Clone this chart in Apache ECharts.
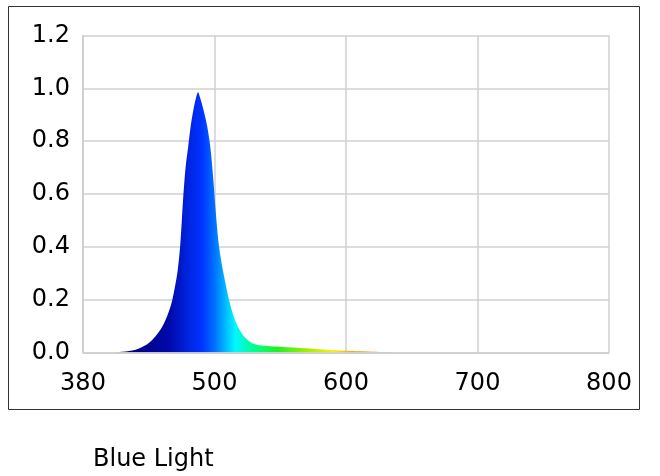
<!DOCTYPE html>
<html>
<head>
<meta charset="utf-8">
<script src="https://cdn.jsdelivr.net/npm/echarts@6/dist/echarts.min.js"></script>
<style>
  html, body { margin: 0; padding: 0; background: #ffffff; }
  #chart { width: 660px; height: 476px; }
</style>
</head>
<body>
<div id="chart"></div>
<script>
// Wavelength positions (axis units) and relative intensity
const wavelengths = [400, 410, 420, 425, 430, 435, 440, 445, 450, 455, 460, 463, 466, 468, 470, 472, 474, 476, 478, 480, 482, 484, 486, 487.5, 489, 491, 493, 495, 497, 499, 501, 503, 505, 508, 511, 514, 517, 520, 524, 528, 532, 536, 540, 550, 560, 570, 580, 590, 600, 610, 620, 630, 640, 650, 700, 750, 800];
const intensity   = [0, 0, 0, 0, 0.002, 0.005, 0.01, 0.02, 0.035, 0.06, 0.095, 0.125, 0.165, 0.2, 0.25, 0.31, 0.41, 0.57, 0.7, 0.78, 0.86, 0.92, 0.965, 0.985, 0.965, 0.93, 0.89, 0.84, 0.77, 0.66, 0.53, 0.42, 0.35, 0.27, 0.2, 0.145, 0.105, 0.077, 0.052, 0.036, 0.029, 0.026, 0.024, 0.021, 0.018, 0.015, 0.012, 0.009, 0.006, 0.004, 0.002, 0.001, 0, 0, 0, 0, 0];
const xTickLabels = ['380', '500', '600', '700', '800'];
const yTickLabels = ['0.0', '0.2', '0.4', '0.6', '0.8', '1.0', '1.2'];
const caption = 'Blue Light';

// spectrum colour stops: [wavelength, colour]
const spectrumStops = [
  [400, '#000070'], [440, '#000088'], [465, '#0008a8'], [480, '#0024e0'],
  [490, '#0032ff'], [500, '#0070ff'], [510, '#00c8ff'], [516, '#00f8ff'],
  [530, '#00ff90'], [548, '#20f020'], [570, '#a0f000'], [590, '#ffee00'],
  [610, '#ff9000'], [640, '#e04000'], [800, '#c00000']
];

const xMin = 400, xMax = 800;
const data = wavelengths.map((w, i) => [w, intensity[i]]);
const colorStops = spectrumStops.map(s => ({ offset: (s[0] - xMin) / (xMax - xMin), color: s[1] }));
const gradient = { type: 'linear', x: 0, y: 0, x2: 1, y2: 0, colorStops: colorStops };

const chart = echarts.init(document.getElementById('chart'), null, { renderer: 'canvas' });
const font = 'DejaVu Sans, Verdana, sans-serif';
chart.setOption({
  animation: false,
  backgroundColor: '#ffffff',
  grid: { left: 83, right: 51, top: 35.5, bottom: 123.7, containLabel: false },
  xAxis: {
    type: 'value', min: xMin, max: xMax, interval: 100,
    axisLine: { show: true, lineStyle: { color: '#cccccc', width: 1.5 } },
    axisTick: { show: false },
    splitLine: { show: true, lineStyle: { color: '#d0d0d0', width: 1.5 } },
    axisLabel: {
      color: '#000000', fontFamily: font, fontSize: 24, margin: 19,
      formatter: (v) => xTickLabels[Math.round((v - xMin) / 100)]
    }
  },
  yAxis: {
    type: 'value', min: 0, max: 1.2, interval: 0.2,
    axisLine: { show: true, lineStyle: { color: '#cccccc', width: 1.5 } },
    axisTick: { show: false },
    splitLine: { show: true, lineStyle: { color: '#d0d0d0', width: 1.5 } },
    axisLabel: {
      color: '#000000', fontFamily: font, fontSize: 24, margin: 13,
      formatter: (v) => yTickLabels[Math.round(v / 0.2)]
    }
  },
  series: [{
    type: 'line',
    data: data,
    smooth: 0.35,
    showSymbol: false,
    lineStyle: { width: 0, opacity: 0 },
    areaStyle: { opacity: 1, color: gradient }
  }],
  graphic: [
    {
      type: 'rect', silent: true,
      shape: { x: 8.5, y: 6.5, width: 631, height: 403 },
      style: { fill: 'none', stroke: '#333333', lineWidth: 1 }
    },
    {
      type: 'text', left: 93, top: 448, silent: true,
      style: { text: caption, fill: '#000000', font: '24px DejaVu Sans, Verdana, sans-serif' }
    }
  ]
});
</script>
</body>
</html>
